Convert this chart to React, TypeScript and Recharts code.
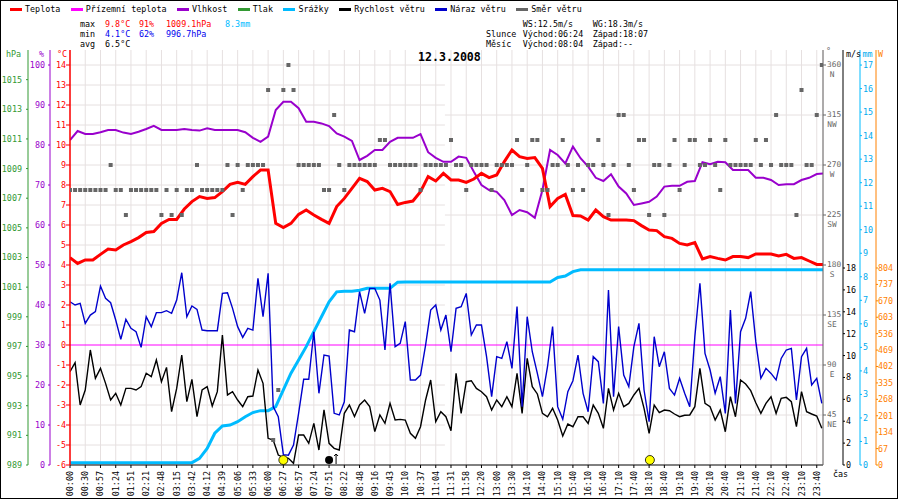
import React from "react";
import {
  ComposedChart,
  Line,
  Scatter,
  XAxis,
  YAxis,
  ReferenceLine,
  CartesianGrid,
} from "recharts";

const MONO = '"DejaVu Sans Mono", "Liberation Mono", monospace';
const FS = 8.4;

// ---- categories (one label every third sample) ----
const timeLabels = [
  "00:00", "00:30", "00:57", "01:24", "01:51", "02:21", "02:48", "03:15", "03:42", "04:12",
  "04:39", "05:06", "05:33", "06:00", "06:27", "06:57", "07:24", "07:51", "08:22", "08:48",
  "09:16", "09:43", "10:10", "10:37", "11:04", "11:31", "11:58", "12:20", "13:00", "13:30",
  "14:10", "14:40", "15:10", "15:40", "16:10", "16:40", "17:10", "17:40", "18:10", "18:40",
  "19:10", "19:40", "20:10", "20:40", "21:10", "21:40", "22:10", "22:40", "23:10", "23:40",
];

// ---- series read every half label step (°C, %, mm) ----
const temperature = [
  4.37, 4.08, 4.25, 4.25, 4.53, 4.8, 4.75, 5.0, 5.17, 5.37,
  5.63, 5.67, 6.08, 6.28, 6.28, 6.8, 7.17, 7.42, 7.33, 7.37,
  7.67, 8.03, 8.13, 8.03, 8.42, 8.75, 8.75, 6.08, 5.87, 6.08,
  6.53, 6.75, 6.5, 6.28, 6.08, 6.92, 7.33, 7.83, 8.33, 8.17,
  7.75, 7.83, 7.67, 7.03, 7.13, 7.2, 7.67, 8.42, 8.2, 8.58,
  8.25, 8.25, 8.13, 8.3, 8.58, 8.37, 8.5, 9.17, 9.75, 9.42,
  9.33, 9.37, 8.83, 6.92, 7.33, 7.53, 6.47, 6.45, 6.25, 6.75,
  6.42, 6.25, 6.25, 6.25, 6.22, 5.97, 5.75, 5.72, 5.42, 5.33,
  5.08, 5.0, 5.12, 4.3, 4.42, 4.33, 4.25, 4.42, 4.42, 4.37,
  4.55, 4.55, 4.55, 4.45, 4.53, 4.33, 4.37, 4.2, 4.03, 4.03,
];

const humidity = [
  81.25, 83.5, 82.75, 82.75, 83.2, 83.75, 83.75, 83.1, 82.75, 83.3,
  84, 84.8, 83.75, 83.75, 83.75, 84, 83.75, 83.6, 84.2, 83.75,
  83.75, 83.75, 83.75, 83.2, 81.8, 80.8, 82.1, 88.75, 90.8, 90.8,
  89.2, 85.8, 85.8, 85.4, 84.75, 82.9, 82.1, 81, 76.25, 77.3,
  78.75, 78.75, 80.8, 81.8, 81.8, 81.8, 82.7, 78.2, 76.8, 75.8,
  75.8, 77.1, 76.8, 73.3, 70, 68.75, 68.3, 66.25, 62.5, 63.75,
  63.2, 61.8, 68.75, 78.75, 77.5, 75.4, 79.6, 76.7, 74.6, 71.8,
  71, 72.7, 69.6, 67.9, 65, 65.4, 65.8, 67.1, 69.6, 69.8,
  69.8, 70.8, 71, 75.7, 75.2, 75.8, 75.7, 73.75, 73.75, 73.75,
  71.8, 71.8, 71.25, 70, 70.2, 70.2, 71.25, 71.8, 72.75, 72.9,
];

const precipitation = [
  0.1, 0.1, 0.1, 0.1, 0.1, 0.1, 0.1, 0.1, 0.1, 0.1,
  0.1, 0.1, 0.1, 0.1, 0.1, 0.1, 0.1, 0.28, 0.7, 1.35,
  1.66, 1.7, 1.84, 2.05, 2.23, 2.31, 2.31, 2.48, 3.19, 3.9,
  4.46, 5.03, 5.67, 6.3, 6.94, 7.36, 7.39, 7.39, 7.43, 7.51,
  7.51, 7.51, 7.51, 7.77, 7.78, 7.78, 7.78, 7.78, 7.78, 7.78,
  7.78, 7.78, 7.78, 7.78, 7.78, 7.78, 7.78, 7.78, 7.78, 7.78,
  7.78, 7.78, 7.78, 7.78, 7.97, 8.03, 8.22, 8.3, 8.3, 8.3,
  8.3, 8.3, 8.3, 8.3, 8.3, 8.3, 8.3, 8.3, 8.3, 8.3,
  8.3, 8.3, 8.3, 8.3, 8.3, 8.3, 8.3, 8.3, 8.3, 8.3,
  8.3, 8.3, 8.3, 8.3, 8.3, 8.3, 8.3, 8.3, 8.3, 8.3,
];

// ---- wind series, one value per sample (three samples per label step) ----
const windSpeed = [
  8.53, 9.35, 5.48, 6.85, 10.51, 7.92, 8.83, 7.46, 5.94, 6.55,
  5.48, 7.0, 7.0, 6.85, 7.16, 8.38, 8.07, 9.6, 7.61, 8.92,
  4.87, 7.0, 10.05, 5.79, 7.83, 4.42, 6.85, 7.16, 5.39, 6.7,
  11.88, 6.4, 6.7, 5.94, 5.33, 6.24, 6.3, 8.68, 7.46, 2.44,
  2.28, 0.91, 0.7, 0.61, 0.15, 2.74, 2.74, 1.98, 3.81, 1.37,
  5.03, 1.98, 1.52, 1.37, 4.72, 5.48, 4.42, 5.48, 5.94, 5.33,
  3.05, 4.57, 3.81, 5.63, 4.11, 4.17, 4.11, 2.89, 2.44, 3.5,
  5.94, 7.77, 3.96, 4.87, 4.41, 3.13, 8.37, 4.72, 7.61, 7.7,
  7.0, 6.7, 6.24, 5.02, 5.94, 5.33, 6.24, 5.33, 8.37, 4.72,
  9.74, 7.16, 6.49, 4.72, 4.41, 5.18, 4.11, 2.65, 3.74, 3.5,
  4.41, 4.41, 3.8, 5.48, 4.72, 3.35, 7.0, 5.02, 6.55, 5.33,
  5.63, 6.4, 7.0, 5.18, 2.89, 5.48, 4.78, 5.02, 4.96, 4.66,
  4.41, 4.54, 4.57, 5.33, 8.83, 5.63, 5.33, 4.11, 5.02, 3.04,
  6.24, 4.41, 7.77, 7.4, 6.79, 5.69, 4.72, 5.63, 6.24, 4.72,
  6.09, 6.18, 5.78, 3.5, 6.7, 4.87, 4.66, 4.47, 3.35,
];

const windGust = [
  14.92, 14.62, 14.77, 12.94, 13.7, 14.01, 16.35, 15.23, 14.83, 13.25,
  11.48, 13.31, 12.49, 12.18, 10.75, 13.55, 12.64, 13.92, 13.92, 14.1,
  13.86, 15.07, 17.57, 13.55, 14.53, 14.22, 12.33, 12.27, 12.27, 12.27,
  15.68, 15.74, 14.31, 12.64, 11.66, 12.49, 12.33, 17.05, 13.55, 17.51,
  5.33, 4.41, 0.95, 0.9, 1.82, 4.72, 7.83, 7.83, 12.18, 6.55,
  10.05, 9.96, 4.72, 4.57, 5.78, 12.33, 12.18, 15.84, 13.86, 16.14,
  16.14, 15.07, 10.51, 16.6, 10.81, 11.12, 13.1, 7.77, 7.77, 8.22,
  10.96, 14.16, 14.62, 12.33, 13.7, 10.35, 14.31, 14.47, 15.68, 11.88,
  12.79, 12.79, 9.9, 6.24, 9.9, 9.74, 11.27, 8.83, 14.47, 5.33,
  13.55, 10.35, 8.37, 6.24, 8.98, 12.64, 5.33, 4.17, 6.7, 7.7,
  10.05, 6.55, 4.87, 9.9, 9.44, 5.63, 15.99, 6.24, 12.64, 8.22,
  7.16, 10.81, 12.94, 6.85, 3.96, 11.72, 8.98, 10.35, 7.0, 6.39,
  7.92, 6.55, 5.33, 11.72, 16.6, 10.2, 8.68, 6.55, 8.07, 4.72,
  14.16, 5.63, 12.18, 13.4, 15.84, 11.27, 7.92, 8.83, 8.37, 7.77,
  9.74, 10.51, 10.66, 5.94, 9.9, 10.66, 7.31, 7.92, 5.63,
];

const windDirection = [
  247.5, 247.5, 247.5, 247.5, 247.5, 247.5, 247.5, 247.5, 270, 247.5,
  247.5, 225, 247.5, 247.5, 247.5, 247.5, 247.5, 247.5, 225, 247.5,
  225, 247.5, 225, 247.5, 247.5, 270, 247.5, 247.5, 247.5, 247.5,
  247.5, 270, 225, 270, 247.5, 270, 270, 270, 270, 337.5,
  22.5, 67.5, 337.5, 360, 337.5, 270, 270, 270, 270, 270,
  247.5, 247.5, 315, 270, 247.5, 270, 270, 270, 270, 270,
  270, 292.5, 292.5, 270, 270, 270, 270, 270, 270, 247.5,
  270, 270, 270, 270, 270, 292.5, 270, 270, 247.5, 270,
  270, 270, 270, 247.5, 270, 270, 270, 270, 292.5, 247.5,
  270, 292.5, 292.5, 247.5, 247.5, 270, 270, 292.5, 270, 247.5,
  270, 247.5, 270, 270, 292.5, 270, 225, 270, 315, 315,
  270, 247.5, 292.5, 292.5, 225, 270, 270, 225, 270, 292.5,
  247.5, 270, 292.5, 292.5, 270, 270, 292.5, 270, 247.5, 292.5,
  270, 270, 270, 270, 270, 292.5, 270, 292.5, 270, 315,
  270, 270, 270, 225, 337.5, 270, 270, 315, 360,
];

// sunrise / moonrise / sunset, in label-step units
const skyEvents = [
  { at: 14.0, body: "sun" },
  { at: 17.0, body: "moon" },
  { at: 38.05, body: "sun" },
];

// ---- axis ticks ----
const tempTicks = [-6, -5, -4, -3, -2, -1, 0, 1, 2, 3, 4, 5, 6, 7, 8, 9, 10, 11, 12, 13, 14];
const humidityTicks = [0, 10, 20, 30, 40, 50, 60, 70, 80, 90, 100];
const pressureTicks = [989, 991, 993, 995, 997, 999, 1001, 1003, 1005, 1007, 1009, 1011, 1013, 1015];
const dirTicks = [45, 90, 135, 180, 225, 270, 315, 360];
const dirNames = ["NE", "E", "SE", "S", "SW", "W", "NW", "N"];
const speedTicks = [0, 2, 4, 6, 8, 10, 12, 14, 16, 18];
const rainTicks = [0, 1, 2, 3, 4, 5, 6, 7, 8, 9, 10, 11, 12, 13, 14, 15, 16, 17];
const solarTicks = [0, 67, 134, 201, 268, 335, 402, 469, 536, 603, 670, 737, 804];
const tempGrid = [-5, -4, -3, -2, -1, 1, 2, 3, 4, 5, 6, 7, 8, 9, 10, 11, 12, 13, 14];

const legendItems = [
  { name: "Teplota", color: "#ff0000" },
  { name: "Přízemní teplota", color: "#ff00ff" },
  { name: "Vlhkost", color: "#9900cc" },
  { name: "Tlak", color: "#339933" },
  { name: "Srážky", color: "#00bbff" },
  { name: "Rychlost větru", color: "#000000" },
  { name: "Náraz větru", color: "#0000cc" },
  { name: "Směr větru", color: "#666666" },
];

// axis ids: l1 (°C) nearest the plot on the left; r1 (°) nearest on the right
const T_AX = "l1";
const H_AX = "l2";
const P_AX = "l3";
const D_AX = "r1";
const S_AX = "r2";
const R_AX = "r3";
const W_AX = "r4";

const X_END = 49.41;
const GRID_SPLIT = 24.6;
const xTicks = timeLabels.map((_, i) => i);

const halfStepData = temperature.map((t, j) => ({
  x: j / 2,
  t,
  h: humidity[j],
  p: precipitation[j],
}));
const sampleData = windSpeed.map((s, k) => ({
  x: k / 3,
  s,
  g: windGust[k],
  d: windDirection[k],
}));
const eventData = skyEvents.map((e) => ({ x: e.at, d: 4.5, body: e.body }));

const TimeTick = (props: any) => {
  const { x, y, payload } = props;
  return (
    <text
      x={x}
      y={y}
      transform={`rotate(-90 ${x} ${y})`}
      textAnchor="end"
      dominantBaseline="central"
      fill="#000"
      fontSize={FS}
      fontFamily={MONO}
    >
      {timeLabels[Math.round(payload.value)]}
    </text>
  );
};

const DirTick = (props: any) => {
  const { x, y, payload } = props;
  const idx = dirTicks.indexOf(payload.value);
  return (
    <g>
      <text x={x} y={y} dy={2} textAnchor="start" fill="#666" fontSize={7.8} fontFamily={MONO}>
        {payload.value}
      </text>
      <text x={x + 5} y={y} dy={12} textAnchor="middle" fill="#666" fontSize={7.8} fontFamily={MONO}>
        {dirNames[idx]}
      </text>
    </g>
  );
};

const SquareShape = (props: any) => {
  const { cx, cy } = props;
  if (cx == null || cy == null) return null;
  return <rect x={cx - 2} y={cy - 2} width={4} height={4} fill="#666666" />;
};

const EventShape = (props: any) => {
  const { cx, cy, payload } = props;
  if (cx == null || cy == null) return null;
  if (payload.body === "sun") {
    return <circle cx={cx} cy={cy} r={4.5} fill="#ffff00" stroke="#000" strokeWidth={0.8} />;
  }
  return (
    <g>
      <circle cx={cx} cy={cy} r={4} fill="#000" />
      <path
        d={`M${cx + 7} ${cy + 4} V${cy - 6} M${cx + 5} ${cy - 4} L${cx + 7} ${cy - 6} L${cx + 9} ${cy - 4}`}
        stroke="#000"
        fill="none"
        strokeWidth={1}
      />
    </g>
  );
};

const tickStyle = (fill: string) => ({ fill, fontSize: FS, fontFamily: MONO });

const txt = (text: string, left: number, top: number, color: string, extra: any = {}) => (
  <div
    style={{
      position: "absolute",
      left,
      top,
      color,
      fontFamily: MONO,
      fontSize: FS,
      lineHeight: "10px",
      whiteSpace: "pre",
      ...extra,
    }}
  >
    {text}
  </div>
);

export default function App() {
  return (
    <div
      style={{
        position: "absolute",
        left: 0,
        top: 0,
        width: 900,
        height: 500,
        background: "#fff",
        overflow: "hidden",
      }}
    >
      <ComposedChart width={900} height={500} margin={{ top: 50, right: 3, bottom: 1, left: 0 }}>
        <CartesianGrid vertical horizontal={false} stroke="#e6e0e0" yAxisId={T_AX} />
        <XAxis
          type="number"
          dataKey="x"
          domain={[0, X_END]}
          ticks={xTicks}
          interval={0}
          allowDataOverflow
          height={34}
          tickSize={3}
          tickMargin={3}
          tick={<TimeTick />}
          axisLine={{ stroke: "#000" }}
          tickLine={{ stroke: "#000" }}
        />
        <YAxis
          yAxisId={P_AX}
          orientation="left"
          type="number"
          width={28}
          domain={[989, 1017]}
          ticks={pressureTicks}
          interval={0}
          allowDataOverflow
          tickSize={2}
          tickMargin={4}
          tick={tickStyle("#339933")}
          axisLine={{ stroke: "#339933" }}
          tickLine={{ stroke: "#339933" }}
        />
        <YAxis
          yAxisId={H_AX}
          orientation="left"
          type="number"
          width={22}
          domain={[0, 103.75]}
          ticks={humidityTicks}
          interval={0}
          allowDataOverflow
          tickSize={2}
          tickMargin={3}
          tick={tickStyle("#9900cc")}
          axisLine={{ stroke: "#9900cc" }}
          tickLine={{ stroke: "#9900cc" }}
        />
        <YAxis
          yAxisId={T_AX}
          orientation="left"
          type="number"
          width={20}
          domain={[-6, 14.75]}
          ticks={tempTicks}
          interval={0}
          allowDataOverflow
          tickSize={4}
          tickMargin={0}
          tick={tickStyle("#ff0000")}
          axisLine={{ stroke: "#ff0000", strokeWidth: 1.5 }}
          tickLine={{ stroke: "#ff0000" }}
        />
        <YAxis
          yAxisId={D_AX}
          orientation="right"
          type="number"
          width={20}
          domain={[0, 373.5]}
          ticks={dirTicks}
          interval={0}
          allowDataOverflow
          tickSize={3}
          tickMargin={1}
          tick={<DirTick />}
          axisLine={{ stroke: "#666" }}
          tickLine={{ stroke: "#666" }}
        />
        <YAxis
          yAxisId={S_AX}
          orientation="right"
          type="number"
          width={17}
          domain={[0, 37.92]}
          ticks={speedTicks}
          interval={0}
          allowDataOverflow
          tickSize={2}
          tickMargin={1}
          tick={tickStyle("#000")}
          axisLine={{ stroke: "#000" }}
          tickLine={{ stroke: "#000" }}
        />
        <YAxis
          yAxisId={R_AX}
          orientation="right"
          type="number"
          width={16}
          domain={[0, 17.64]}
          ticks={rainTicks}
          interval={0}
          allowDataOverflow
          tickSize={2}
          tickMargin={1}
          tick={tickStyle("#00aaee")}
          axisLine={{ stroke: "#00bbff" }}
          tickLine={{ stroke: "#00bbff" }}
        />
        <YAxis
          yAxisId={W_AX}
          orientation="right"
          type="number"
          width={21}
          domain={[0, 1693.7]}
          ticks={solarTicks}
          interval={0}
          allowDataOverflow
          tickSize={2}
          tickMargin={0}
          tick={tickStyle("#ff8000")}
          axisLine={{ stroke: "#ff8000" }}
          tickLine={{ stroke: "#ff8000" }}
        />

        {tempGrid.map((t) => (
          <ReferenceLine
            key={"tg" + t}
            yAxisId={T_AX}
            segment={[
              { x: 0, y: t },
              { x: GRID_SPLIT, y: t },
            ]}
            stroke="#e6e0e0"
          />
        ))}
        {dirTicks.map((d) => (
          <ReferenceLine
            key={"dg" + d}
            yAxisId={D_AX}
            segment={[
              { x: GRID_SPLIT, y: d },
              { x: X_END, y: d },
            ]}
            stroke="#e6e0e0"
          />
        ))}
        <ReferenceLine yAxisId={T_AX} y={0} stroke="#ff00ff" strokeWidth={1} />

        <Line
          data={halfStepData}
          dataKey="p"
          name="Srážky"
          yAxisId={R_AX}
          stroke="#00bbff"
          strokeWidth={3}
          dot={false}
          isAnimationActive={false}
        />
        <Line
          data={sampleData}
          dataKey="s"
          name="Rychlost větru"
          yAxisId={S_AX}
          stroke="#000"
          strokeWidth={1.4}
          dot={false}
          isAnimationActive={false}
        />
        <Line
          data={sampleData}
          dataKey="g"
          name="Náraz větru"
          yAxisId={S_AX}
          stroke="#0000cc"
          strokeWidth={1.4}
          dot={false}
          isAnimationActive={false}
        />
        <Line
          data={halfStepData}
          dataKey="h"
          name="Vlhkost"
          yAxisId={H_AX}
          stroke="#9900cc"
          strokeWidth={2}
          dot={false}
          isAnimationActive={false}
        />
        <Line
          data={halfStepData}
          dataKey="t"
          name="Teplota"
          yAxisId={T_AX}
          stroke="#ff0000"
          strokeWidth={3}
          dot={false}
          isAnimationActive={false}
        />
        <Scatter
          data={sampleData}
          dataKey="d"
          name="Směr větru"
          yAxisId={D_AX}
          shape={<SquareShape />}
          isAnimationActive={false}
        />
        <Scatter
          data={eventData}
          dataKey="d"
          yAxisId={D_AX}
          shape={<EventShape />}
          isAnimationActive={false}
        />
      </ComposedChart>

      {/* legend */}
      <div
        style={{
          position: "absolute",
          left: 10,
          top: 4,
          display: "flex",
          alignItems: "center",
          fontFamily: MONO,
          fontSize: FS,
          lineHeight: "10px",
          whiteSpace: "pre",
          color: "#000",
        }}
      >
        {legendItems.map((it) => (
          <div key={it.name} style={{ display: "flex", alignItems: "center", marginRight: 10.5 }}>
            <span style={{ display: "inline-block", width: 12, height: 3, background: it.color, marginRight: 3 }} />
            <span>{it.name}</span>
          </div>
        ))}
      </div>

      {/* summary */}
      {txt("max", 80, 19, "#000")}
      {txt("9.8°C", 105, 19, "#ff0000")}
      {txt("91%", 139, 19, "#ff0000")}
      {txt("1009.1hPa", 166, 19, "#ff0000")}
      {txt("8.3mm", 225, 19, "#00bbff")}
      {txt("min", 80, 29, "#000")}
      {txt("4.1°C", 105, 29, "#0000ee")}
      {txt("62%", 139, 29, "#0000ee")}
      {txt("996.7hPa", 166, 29, "#0000ee")}
      {txt("avg", 80, 39, "#000")}
      {txt("6.5°C", 105, 39, "#000")}

      {txt("WS:12.5m/s", 522.7, 19, "#000")}
      {txt("WG:18.3m/s", 592.7, 19, "#000")}
      {txt("Slunce", 486, 29, "#000")}
      {txt("Východ:06:24", 522.7, 29, "#000")}
      {txt("Západ:18:07", 592.7, 29, "#000")}
      {txt("Měsíc", 486, 39, "#000")}
      {txt("Východ:08:04", 522.7, 39, "#000")}
      {txt("Západ:--", 592.7, 39, "#000")}

      {/* title */}
      {txt("12.3.2008", 418, 51, "#000", { fontSize: 11.6, fontWeight: "bold", lineHeight: "12px" })}

      {/* axis units */}
      {txt("hPa", 6, 49, "#339933")}
      {txt("%", 39, 49, "#9900cc")}
      {txt("°C", 57, 49, "#ff0000")}
      {txt("°", 826, 46, "#666")}
      {txt("m/s", 846, 49, "#000")}
      {txt("mm", 862.5, 49, "#00aaee")}
      {txt("W", 878, 49, "#ff8000")}
      {txt("čas", 833, 469, "#000")}

      {/* frame */}
      <div
        style={{
          position: "absolute",
          left: 0,
          top: 0,
          width: 898,
          height: 499,
          border: "1px solid #000",
          boxSizing: "border-box",
          pointerEvents: "none",
        }}
      />
    </div>
  );
}
